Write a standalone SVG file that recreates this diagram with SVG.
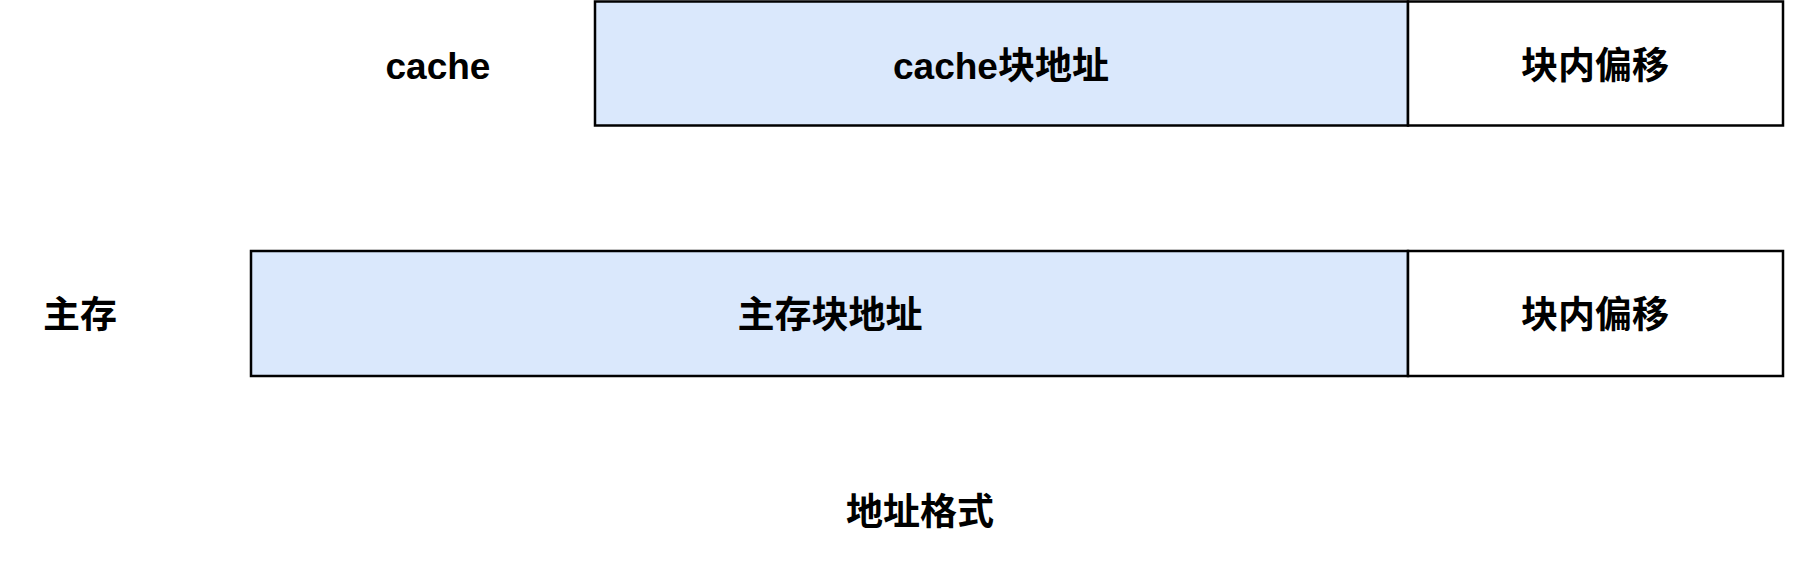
<svg xmlns="http://www.w3.org/2000/svg" width="1803" height="578" viewBox="0 0 1803 578">
<style>
.b{stroke:#000;stroke-width:2.5}
.f{fill:#dae8fc}
.w{fill:#fff}
text{font-family:"Liberation Sans","Noto Sans CJK SC",sans-serif;font-weight:bold;font-size:37px;text-anchor:middle;dominant-baseline:central;fill:#000}
</style>
<rect width="1803" height="578" fill="#fff"/>
<g id="cache-label"><text x="438" y="66">cache</text></g>
<g id="cache-block"><rect class="b f" x="595" y="1.5" width="813" height="124"/><text x="1001" y="66">cache块地址</text></g>
<g id="cache-offset"><rect class="b w" x="1408" y="1.5" width="375" height="124"/><text x="1595" y="66">块内偏移</text></g>
<g id="mem-label"><text x="80" y="315">主存</text></g>
<g id="mem-block"><rect class="b f" x="251" y="251" width="1157" height="125"/><text x="830" y="315">主存块地址</text></g>
<g id="mem-offset"><rect class="b w" x="1408" y="251" width="375" height="125"/><text x="1595" y="315">块内偏移</text></g>
<g id="caption"><text x="920" y="512">地址格式</text></g>
<g id="connectors"/>
</svg>
